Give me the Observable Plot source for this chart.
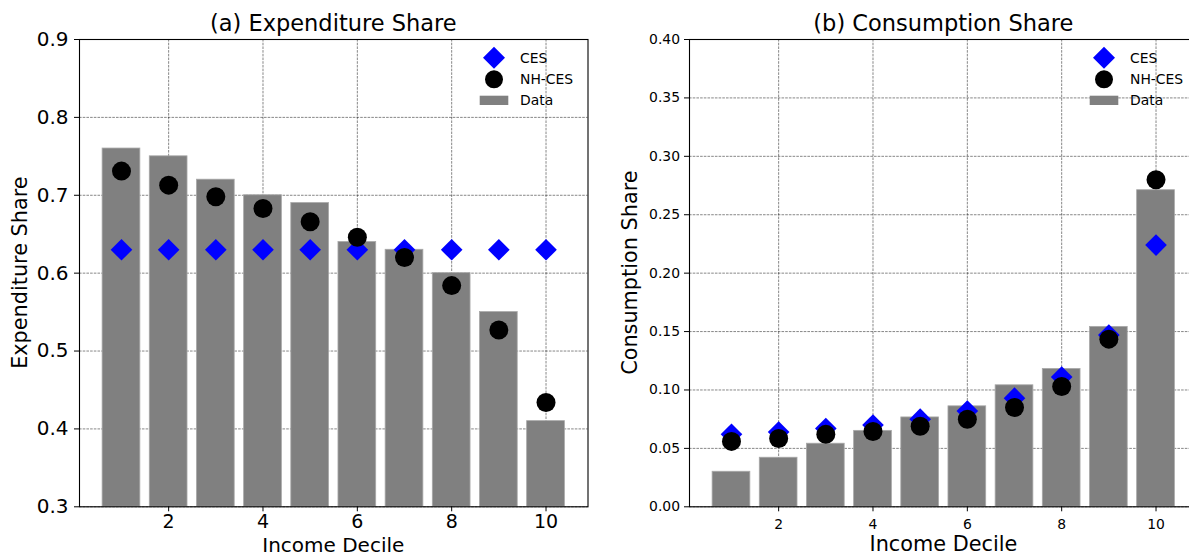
<!DOCTYPE html>
<html>
<head>
<meta charset="utf-8">
<script src="https://cdn.jsdelivr.net/npm/d3@7"></script>
<script src="https://cdn.jsdelivr.net/npm/@observablehq/plot@0.6"></script>
<style>
  html, body { margin: 0; padding: 0; background: #fff; overflow: hidden; }
  #fig { position: relative; width: 1189px; height: 557px; overflow: hidden; font-family: "DejaVu Sans", sans-serif; color: #000; }
  .panel { position: absolute; top: 0; }
  #overlay { position: absolute; left: 0; top: 0; pointer-events: none; }
</style>
</head>
<body>
<div id="fig"></div>
<script>
// Income deciles shared by both panels
const deciles = [1, 2, 3, 4, 5, 6, 7, 8, 9, 10];
const xTicks = [2, 4, 6, 8, 10];

// (a) Expenditure share by decile
const expData = [0.76, 0.75, 0.72, 0.70, 0.69, 0.64, 0.63, 0.60, 0.55, 0.41];
const expCES  = [0.63, 0.63, 0.63, 0.63, 0.63, 0.63, 0.63, 0.63, 0.63, 0.63];
const expNH   = [0.731, 0.713, 0.698, 0.683, 0.666, 0.646, 0.620, 0.584, 0.527, 0.434];
const expTicks = [0.3, 0.4, 0.5, 0.6, 0.7, 0.8, 0.9];

// (b) Consumption share by decile
const conData = [0.030, 0.042, 0.054, 0.065, 0.0765, 0.086, 0.104, 0.118, 0.154, 0.271];
const conCES  = [0.062, 0.064, 0.067, 0.070, 0.075, 0.082, 0.093, 0.111, 0.147, 0.224];
const conNH   = [0.056, 0.0585, 0.062, 0.0645, 0.069, 0.075, 0.085, 0.103, 0.1435, 0.280];
const conTicks = [0, 0.05, 0.10, 0.15, 0.20, 0.25, 0.30, 0.35, 0.40];

const FONT = "DejaVu Sans";
const H = 557, TOP = 39, BOTTOM = 506.3;

function panel({data, ces, nh, yDomain, yTicks, yFormat, tickFont, xFont, xPad, yPad, marginLeft, width}) {
  const rows = deciles.map((d, i) => ({decile: d, data: data[i], ces: ces[i], nh: nh[i]}));
  const base = yDomain[0];
  const gridStyle = {stroke: "#000", strokeOpacity: 0.8, strokeWidth: 0.6, strokeDasharray: "2.6,1.1"};
  return Plot.plot({
    width, height: H,
    marginTop: TOP, marginBottom: H - BOTTOM,
    marginLeft, marginRight: width - marginLeft - 508.5,
    x: {type: "linear", domain: [0.11, 10.89]},
    y: {type: "linear", domain: yDomain},
    style: {fontFamily: FONT, fontSize: tickFont + "px", color: "#000", background: "transparent", overflow: "visible"},
    marks: [
      Plot.gridX(xTicks, gridStyle),
      Plot.gridY(yTicks, gridStyle),
      Plot.rect(rows, {x1: d => d.decile - 0.4, x2: d => d.decile + 0.4, y1: () => base, y2: "data",
        fill: "#808080", stroke: "#a8a8a8", strokeWidth: 0.8}),
      Plot.dot(rows, {x: "decile", y: "ces", symbol: "diamond2", r: 9.75, fill: "blue", stroke: "none"}),
      Plot.dot(rows, {x: "decile", y: "nh", symbol: "circle", r: 9.5, fill: "#000", stroke: "none"}),
      Plot.axisX(xTicks, {tickSize: 5, tickPadding: xPad, label: null, fontSize: xFont}),
      Plot.axisY(yTicks, {tickSize: 5, tickPadding: yPad, tickFormat: d3.format(yFormat), label: null, fontSize: tickFont}),
      Plot.frame({stroke: "#000", strokeWidth: 1.1})
    ]
  });
}

const fig = document.getElementById("fig");

const left = panel({data: expData, ces: expCES, nh: expNH, yDomain: [0.3, 0.9], yTicks: expTicks,
  yFormat: ".1f", tickFont: 20, xFont: 19, xPad: 3, yPad: 6, marginLeft: 79, width: 600});
left.classList.add("panel");
left.style.left = "0px";
fig.appendChild(left);

const right = panel({data: conData, ces: conCES, nh: conNH, yDomain: [0, 0.4], yTicks: conTicks,
  yFormat: ".2f", tickFont: 13.9, xFont: 13.9, xPad: 7, yPad: 4.5, marginLeft: 89, width: 610});
right.classList.add("panel");
right.style.left = "600px";
fig.appendChild(right);

// Titles, axis labels and legends
const svg = d3.select(fig).append("svg").attr("id", "overlay")
  .attr("width", 1189).attr("height", H)
  .style("font-family", FONT);

const text = (x, y, s, size, opts = {}) => {
  const t = svg.append("text").attr("x", x).attr("y", y).attr("font-size", size)
    .attr("fill", "#000").attr("text-anchor", opts.anchor || "middle").text(s);
  if (opts.rotate) t.attr("transform", `rotate(-90 ${x} ${y})`);
  return t;
};

text(333.3, 30.7, "(a) Expenditure Share", 22.5);
text(943.4, 30.7, "(b) Consumption Share", 22.5);
text(333.3, 552, "Income Decile", 20);
text(943.4, 551.3, "Income Decile", 20.8);
text(27.5, (TOP + BOTTOM) / 2, "Expenditure Share", 20.8, {rotate: true});
text(637.5, (TOP + BOTTOM) / 2, "Consumption Share", 20.8, {rotate: true});

const legendItems = ["CES", "NH-CES", "Data"];
function legend(cx, tx) {
  const g = svg.append("g");
  g.append("path").attr("d", d3.symbol(d3.symbolDiamond2, Math.pow(11 / 0.62625, 2))())
    .attr("transform", `translate(${cx},57.7)`).attr("fill", "blue");
  g.append("circle").attr("cx", cx).attr("cy", 79.3).attr("r", 9).attr("fill", "#000");
  g.append("rect").attr("x", cx - 14.3).attr("y", 95.7).attr("width", 28.6).attr("height", 9.3).attr("fill", "#808080");
  [57.7, 79.3, 100.3].forEach((y, i) => text(tx, y + 5, legendItems[i], 13.9, {anchor: "start"}));
}
legend(494, 520);
legend(1104, 1130);
</script>
</body>
</html>
